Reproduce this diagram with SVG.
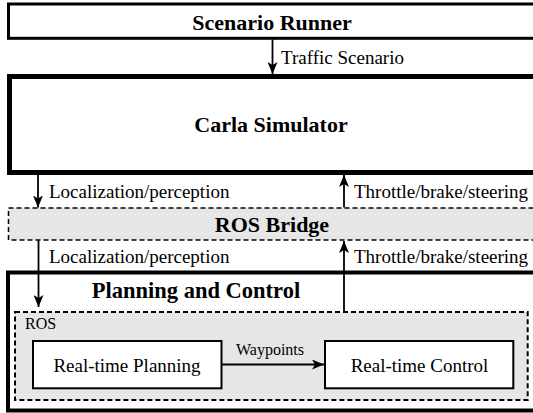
<svg xmlns="http://www.w3.org/2000/svg" width="533" height="413" viewBox="0 0 533 413">
<style>
.t{font-family:"Liberation Serif","Times New Roman",serif;font-size:19px;fill:#000}
.b{font-family:"Liberation Serif","Times New Roman",serif;font-size:22px;font-weight:bold;fill:#000;text-anchor:middle}
.s{font-family:"Liberation Serif","Times New Roman",serif;font-size:16px;fill:#000}
.ln{stroke:#000;stroke-width:1.8;fill:none}
.box{fill:#fff;stroke:#000}
.dash{fill:#e6e6e6;stroke:#000;stroke-dasharray:5 3}
</style>
<defs>
<marker id="ah" viewBox="0 0 12 10" refX="12" refY="5" markerWidth="12" markerHeight="10" markerUnits="userSpaceOnUse" orient="auto">
<path d="M0,0 L12,5 L0,10 L3,5 z" fill="#000"/>
</marker>
</defs>
<rect width="533" height="413" fill="#fff"/>
<g id="scenario-runner">
<rect class="box" x="8.5" y="4" width="540" height="34.3" stroke-width="3"/>
<text class="b" x="272" y="29.5">Scenario Runner</text>
</g>
<g id="carla-simulator">
<rect class="box" x="9.5" y="76.5" width="540" height="96" stroke-width="5"/>
<text class="b" x="271" y="132">Carla Simulator</text>
</g>
<g id="ros-bridge">
<rect class="dash" x="8.5" y="208" width="540" height="32" stroke-width="1.5"/>
<text class="b" x="272" y="232">ROS Bridge</text>
</g>
<g id="planning-and-control">
<rect class="box" x="8" y="272.5" width="540" height="138" stroke-width="4"/>
<text class="b" x="196" y="298" style="font-size:22.5px">Planning and Control</text>
</g>
<g id="ros">
<rect class="dash" x="15" y="312" width="512.7" height="88" stroke-width="2"/>
<text class="s" x="25" y="329">ROS</text>
</g>
<g id="real-time-planning">
<rect class="box" x="33" y="341" width="188.5" height="47.3" stroke-width="2"/>
<text class="t" x="127" y="372" text-anchor="middle">Real-time Planning</text>
</g>
<g id="real-time-control">
<rect class="box" x="325" y="341" width="188.3" height="47.3" stroke-width="2"/>
<text class="t" x="419.5" y="372" text-anchor="middle">Real-time Control</text>
</g>
<g id="connectors">
<line class="ln" x1="272.5" y1="39.5" x2="272.5" y2="74" marker-end="url(#ah)"/>
<text class="t" x="281" y="63.5">Traffic Scenario</text>
<line class="ln" x1="38" y1="175" x2="38" y2="207.5" marker-end="url(#ah)"/>
<text class="t" x="49" y="198">Localization/perception</text>
<line class="ln" x1="344" y1="207.5" x2="344" y2="175" marker-end="url(#ah)"/>
<text class="t" x="354" y="198">Throttle/brake/steering</text>
<line class="ln" x1="38.5" y1="240" x2="38.5" y2="307" marker-end="url(#ah)"/>
<text class="t" x="49" y="263">Localization/perception</text>
<line class="ln" x1="344" y1="311" x2="344" y2="241" marker-end="url(#ah)"/>
<text class="t" x="354" y="263">Throttle/brake/steering</text>
<line class="ln" x1="221.7" y1="364.5" x2="324" y2="364.5" marker-end="url(#ah)"/>
<text class="s" x="270" y="355" text-anchor="middle">Waypoints</text>
</g>
</svg>
